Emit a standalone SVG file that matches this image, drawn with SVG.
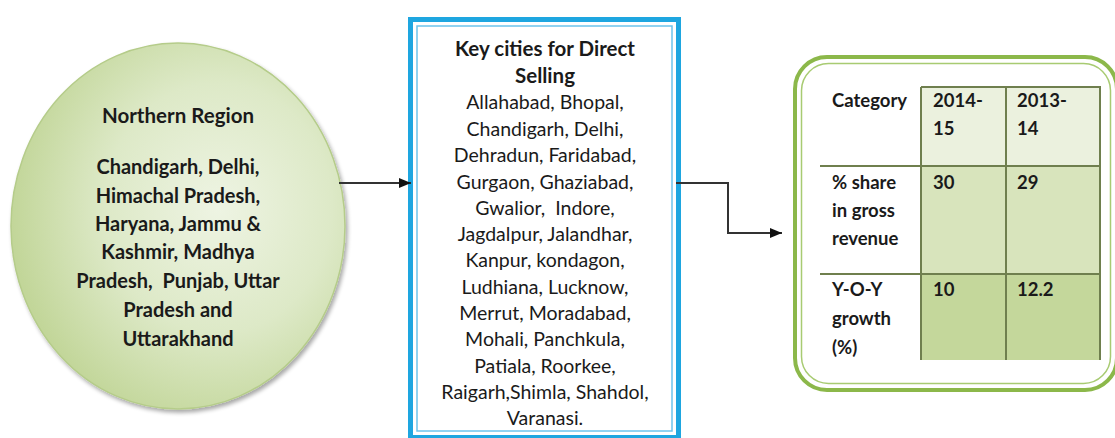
<svg xmlns="http://www.w3.org/2000/svg" width="1115" height="438" viewBox="0 0 1115 438">
  <defs>
    <radialGradient id="regionFill" cx="0.62" cy="0.45" r="0.62">
      <stop offset="0" stop-color="#eef4e3"/>
      <stop offset="0.55" stop-color="#dde9c7"/>
      <stop offset="1" stop-color="#c2d699"/>
    </radialGradient>
    <filter id="softShadow" x="-10%" y="-10%" width="125%" height="125%">
      <feGaussianBlur in="SourceAlpha" stdDeviation="2"/>
      <feOffset dx="2" dy="3" result="blur"/>
      <feComponentTransfer><feFuncA type="linear" slope="0.35"/></feComponentTransfer>
      <feMerge><feMergeNode/><feMergeNode in="SourceGraphic"/></feMerge>
    </filter>
    <marker id="arrowHead" viewBox="0 0 12 10" refX="12" refY="5" markerWidth="12" markerHeight="10" markerUnits="userSpaceOnUse" orient="auto">
      <path d="M0,0 L12,5 L0,10 Z" fill="#111"/>
    </marker>
  </defs>
  <style>
    text { font-family: Lato, "Liberation Sans", sans-serif; fill: #1a1a1a; }
    .region { font-size: 20px; font-weight: bold; text-anchor: middle; }
    .region-head { font-size: 20.5px; }
    .cities { font-size: 19.5px; text-anchor: middle; }
    .cities-head { font-size: 20.5px; font-weight: bold; }
    .cell { font-size: 18.5px; font-weight: bold; }
    .conn { fill: none; stroke: #333333; stroke-width: 2; marker-end: url(#arrowHead); }
    .grid { stroke: #6f7f4e; stroke-width: 2; fill: none; }
  </style>

  <rect width="1115" height="438" fill="#ffffff"/>

  <!-- Northern Region ellipse -->
  <g id="node-region">
    <ellipse cx="178" cy="226" rx="167" ry="183" fill="url(#regionFill)" stroke="#b5cc8a" stroke-width="1.5" filter="url(#softShadow)"/>
    <text class="region region-head" x="178" y="123">Northern Region</text>
    <text class="region" x="178" y="174">Chandigarh, Delhi,</text>
    <text class="region" x="178" y="203">Himachal Pradesh,</text>
    <text class="region" x="178" y="231">Haryana, Jammu &amp;</text>
    <text class="region" x="178" y="259">Kashmir, Madhya</text>
    <text class="region" x="178" y="288" xml:space="preserve">Pradesh,  Punjab, Uttar</text>
    <text class="region" x="178" y="317">Pradesh and</text>
    <text class="region" x="178" y="346">Uttarakhand</text>
  </g>

  <!-- Key cities box with thick/thin blue frame -->
  <g id="node-cities">
    <rect x="410.5" y="19.5" width="268" height="418" fill="#ffffff" stroke="#1ea6e0" stroke-width="5"/>
    <rect x="417" y="26" width="255" height="405" fill="none" stroke="#6cc3ec" stroke-width="1.5"/>
    <text class="cities cities-head" x="545" y="56">Key cities for Direct</text>
    <text class="cities cities-head" x="545" y="83">Selling</text>
    <text class="cities" x="545" y="109">Allahabad, Bhopal,</text>
    <text class="cities" x="545" y="136">Chandigarh, Delhi,</text>
    <text class="cities" x="545" y="162">Dehradun, Faridabad,</text>
    <text class="cities" x="545" y="189">Gurgaon, Ghaziabad,</text>
    <text class="cities" x="545" y="215" xml:space="preserve">Gwalior,  Indore,</text>
    <text class="cities" x="545" y="241">Jagdalpur, Jalandhar,</text>
    <text class="cities" x="545" y="267">Kanpur, kondagon,</text>
    <text class="cities" x="545" y="294">Ludhiana, Lucknow,</text>
    <text class="cities" x="545" y="320">Merrut, Moradabad,</text>
    <text class="cities" x="545" y="346">Mohali, Panchkula,</text>
    <text class="cities" x="545" y="373">Patiala, Roorkee,</text>
    <text class="cities" x="545" y="399">Raigarh,Shimla, Shahdol,</text>
    <text class="cities" x="545" y="425">Varanasi.</text>
  </g>

  <!-- Performance table inside a rounded green frame -->
  <g id="node-table">
    <rect x="795" y="57" width="322" height="333" rx="32" ry="32" fill="#ffffff" stroke="#8cb84a" stroke-width="4"/>
    <rect x="801.5" y="63.5" width="309" height="320" rx="27" ry="27" fill="none" stroke="#a8cb72" stroke-width="1.5"/>

    <!-- cell fills -->
    <rect x="921" y="87" width="179" height="79" fill="#ebf1de"/>
    <rect x="921" y="166" width="179" height="108" fill="#d8e4bc"/>
    <rect x="921" y="274" width="179" height="86" fill="#c4d79b"/>

    <!-- grid -->
    <path class="grid" d="M921,87 H1100 V360 M921,87 V360 M1006,87 V360 M820,166 H1100 M820,274 H1100"/>

    <!-- header row -->
    <text class="cell" x="832" y="107">Category</text>
    <text class="cell" x="933" y="107">2014-</text>
    <text class="cell" x="933" y="135">15</text>
    <text class="cell" x="1017" y="107">2013-</text>
    <text class="cell" x="1017" y="135">14</text>

    <!-- share row -->
    <text class="cell" x="832" y="189">% share</text>
    <text class="cell" x="832" y="217">in gross</text>
    <text class="cell" x="832" y="245">revenue</text>
    <text class="cell" x="933" y="189">30</text>
    <text class="cell" x="1017" y="189">29</text>

    <!-- growth row -->
    <text class="cell" x="832" y="296">Y-O-Y</text>
    <text class="cell" x="832" y="325">growth</text>
    <text class="cell" x="832" y="354">(%)</text>
    <text class="cell" x="933" y="296">10</text>
    <text class="cell" x="1017" y="296">12.2</text>
  </g>

  <!-- connectors -->
  <g id="connectors">
    <path class="conn" d="M339,183 H411"/>
    <path class="conn" d="M676,183 H728 V233 H782"/>
  </g>
</svg>
